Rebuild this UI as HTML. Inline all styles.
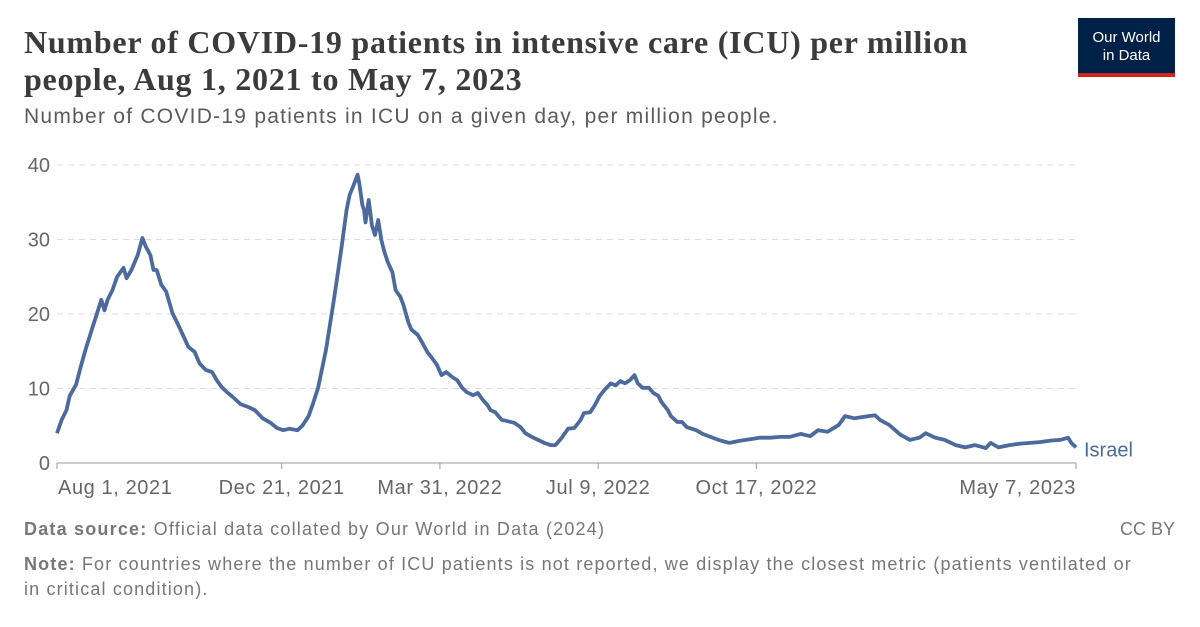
<!DOCTYPE html>
<html><head><meta charset="utf-8"><style>
body{margin:0;width:1200px;height:627px;background:#fff;font-family:"Liberation Sans",sans-serif;overflow:hidden;position:relative}
.t{position:absolute;white-space:nowrap}
</style></head><body>
<div class="t" style="left:24px;top:24px;font-family:'Liberation Serif',serif;font-size:32px;letter-spacing:0.75px;font-weight:bold;color:#3b3b3b;line-height:37px">Number of COVID-19 patients in intensive care (ICU) per million<br>people, Aug 1, 2021 to May 7, 2023</div>
<div class="t" style="left:24px;top:105px;font-size:21px;letter-spacing:1.25px;color:#5b5b5b">Number of COVID-19 patients in ICU on a given day, per million people.</div>
<div style="position:absolute;left:1078px;top:18px;width:97px;height:59px;background:#002147;border-bottom:4px solid #ce261e;box-sizing:border-box;color:#fff;font-size:15px;line-height:18px;text-align:center;padding-top:11px">Our World<br>in Data</div>
<svg id="chart" width="1200" height="627" style="position:absolute;left:0;top:0"></svg>
<div class="t" style="left:24px;top:519px;font-size:18px;letter-spacing:1.2px;color:#777"><b>Data source:</b> Official data collated by Our World in Data (2024)</div>
<div class="t" style="right:25px;top:519px;font-size:18px;color:#777">CC BY</div>
<div class="t" style="left:24px;top:552px;font-size:18px;letter-spacing:1.15px;color:#777;line-height:25px"><b>Note:</b> For countries where the number of ICU patients is not reported, we display the closest metric (patients ventilated or<br>in critical condition).</div>
<script>
const days=[0,3,6,8,12,15,18,22,25,28,30,32,35,38,40,42,44,47,51,54,56,59,61,63,66,69,73,76,80,83,87,90,94,98,101,104,108,112,116,121,125,130,135,139,143,147,152,155,159,162,165,167,170,173,175,178,180,183,185,188,190,191,193,194,195,197,199,201,203,205,207,209,212,214,217,219,222,224,228,231,234,237,240,243,246,250,253,256,259,263,266,269,272,274,277,281,285,289,293,296,300,304,308,312,315,319,323,327,331,333,337,340,343,346,350,353,356,359,362,365,367,370,374,377,380,382,386,388,392,395,398,401,404,408,413,418,425,432,438,444,451,457,463,470,476,481,487,494,498,504,513,517,520,526,533,539,545,549,555,561,568,574,580,587,590,595,602,609,615,621,628,634,639,641,644];
const values=[4.0,5.8,7.1,9.0,10.5,12.9,15.2,17.9,19.9,21.9,20.5,21.9,23.2,25.0,25.6,26.2,24.8,25.9,27.9,30.2,29.1,27.9,25.9,25.9,23.9,23.0,20.1,18.8,17.0,15.6,14.9,13.4,12.5,12.2,11.1,10.2,9.4,8.7,7.9,7.5,7.1,6.0,5.4,4.7,4.4,4.6,4.4,5.0,6.3,8.1,10.1,12.1,15.2,19.2,21.9,26.2,29.2,34.0,36.0,37.6,38.7,37.6,34.6,34.0,32.3,35.3,31.9,30.6,32.6,29.9,28.3,27.0,25.6,23.2,22.3,21.2,18.9,17.9,17.2,16.1,14.9,14.1,13.2,11.8,12.2,11.5,11.1,10.1,9.5,9.1,9.4,8.5,7.8,7.1,6.8,5.8,5.6,5.4,4.8,4.0,3.5,3.1,2.7,2.4,2.4,3.4,4.6,4.7,5.8,6.7,6.8,7.8,9.0,9.8,10.7,10.4,11.0,10.7,11.1,11.8,10.7,10.1,10.1,9.4,9.0,8.2,7.1,6.3,5.5,5.5,4.8,4.6,4.4,3.9,3.5,3.1,2.7,3.0,3.2,3.4,3.4,3.5,3.5,3.9,3.6,4.4,4.2,5.1,6.3,6.0,6.3,6.4,5.8,5.1,3.8,3.1,3.4,4.0,3.4,3.1,2.4,2.1,2.4,2.0,2.7,2.1,2.4,2.6,2.7,2.8,3.0,3.1,3.4,2.7,2.1];
const yTicks=[0,10,20,30,40];
const xTickDays=[0,142,242,342,442,644];
const xTickLabels=["Aug 1, 2021","Dec 21, 2021","Mar 31, 2022","Jul 9, 2022","Oct 17, 2022","May 7, 2023"];
const NS="http://www.w3.org/2000/svg",svg=document.getElementById('chart');
const X0=57,X1=1076,Y0=463,Y1=165,DMAX=644,VMAX=40;
const xs=d=>X0+(X1-X0)*d/DMAX, ys=v=>Y0-(Y0-Y1)*v/VMAX;
function mk(t,a){const e=document.createElementNS(NS,t);for(const k in a)e.setAttribute(k,a[k]);svg.appendChild(e);return e;}
yTicks.forEach(v=>{
 if(v>0){const g=mk('line',{x1:X0,x2:X1,y1:ys(v),y2:ys(v),stroke:'#ddd','stroke-dasharray':'6,5'});
 
 }
 const t=mk('text',{x:50,y:ys(v)+7,'text-anchor':'end','font-size':'20','fill':'#666','font-family':'Liberation Sans'});t.textContent=v;
 
 
});
const ax=mk('line',{x1:X0,x2:X1,y1:Y0,y2:Y0,stroke:'#999'});


xTickDays.forEach((d,i)=>{
 const tk=mk('line',{x1:xs(d),x2:xs(d),y1:Y0,y2:Y0+6,stroke:'#999'});
 
 
 const anchor=i==0?'start':(i==xTickDays.length-1?'end':'middle');
 const t=mk('text',{x:i==0?xs(d)+1:xs(d),y:494,'text-anchor':anchor,'font-size':'20','letter-spacing':'0.6','fill':'#666','font-family':'Liberation Sans'});t.textContent=xTickLabels[i];
 
 
});
const p=mk('path',{d:days.map((d,i)=>(i?'L':'M')+xs(d).toFixed(1)+','+ys(values[i]).toFixed(1)).join(''),fill:'none',stroke:'#4c6a9c','stroke-width':'3.8','stroke-linejoin':'round'});


const lb=mk('text',{x:1084,y:ys(values[values.length-1])+9,'font-size':'20','fill':'#4c6a9c','font-family':'Liberation Sans'});lb.textContent='Israel';


</script>
</body></html>
